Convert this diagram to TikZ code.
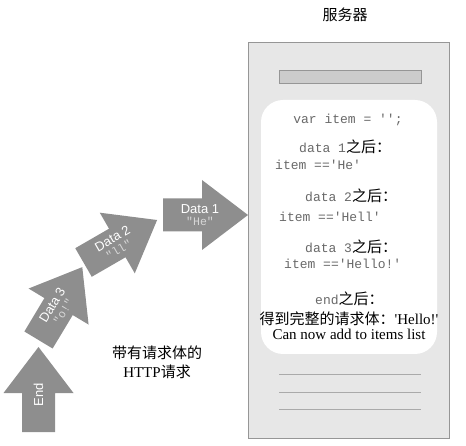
\documentclass[tikz,border=0pt]{standalone}
\usepackage{fontspec}
\setmainfont{Liberation Serif}[Ligatures=TeXOff]
\setsansfont{Liberation Sans}
\setmonofont{Liberation Mono}
\newfontfamily\cjk{Noto Sans CJK SC}

\definecolor{arrowgray}{RGB}{142,142,142}
\definecolor{quotegray}{RGB}{215,215,215}
\definecolor{servergray}{RGB}{231,231,231}
\definecolor{edgegray}{RGB}{150,150,150}
\definecolor{bargray}{RGB}{204,204,204}
\definecolor{rulegray}{RGB}{170,170,170}
\definecolor{codegray}{RGB}{105,105,105}

% Chinese text at body size, in black
\newcommand\zhtext[1]{{\cjk\color{black}\fontsize{15pt}{17pt}\selectfont #1}}

\begin{document}
\begin{tikzpicture}[x=1pt,y=-1pt,
  arrowbody/.style={fill=arrowgray},
  arrowlabel/.style={transform shape, align=center, inner sep=0pt, text=white,
    font=\sffamily\fontsize{13pt}{12pt}\selectfont},
  code/.style={inner sep=0pt, text=codegray, font=\ttfamily\fontsize{13pt}{15pt}\selectfont},
  caption/.style={inner sep=0pt, align=center, font=\fontsize{15pt}{19pt}\selectfont},
  server/.style={fill=servergray, draw=edgegray, line width=0.8pt},
  bar/.style={fill=bargray, draw=edgegray, line width=0.8pt},
  rule/.style={draw=rulegray, line width=0.9pt}]
\useasboundingbox (0,0) rectangle (466,446);

% ---- request chunks, drawn as block arrows along a rising path ----
\newcommand\chunkarrow{%
  \fill[arrowbody] (0,-16.5) -- (39,-16.5) -- (39,-35) -- (85,0)
    -- (39,35) -- (39,16.5) -- (0,16.5) -- cycle;}
\newcommand\quotetext[1]{{\ttfamily\color{quotegray}\fontsize{11.5pt}{12pt}\selectfont #1}}

\begin{scope}[shift={(163,215)}]
  \chunkarrow
  \node[arrowlabel] (d1) at (37,0) {Data 1\\[0.5pt]\quotetext{"He"}};
\end{scope}
\begin{scope}[shift={(83.5,262.5)}, rotate=30]
  \chunkarrow
  \node[arrowlabel] (d2) at (37,0) {Data 2\\[0.5pt]\quotetext{"ll"}};
\end{scope}
\begin{scope}[shift={(38.5,340)}, rotate=59]
  \chunkarrow
  \node[arrowlabel] (d3) at (37,0) {Data 3\\[0.5pt]\quotetext{"o!"}};
\end{scope}
\begin{scope}[shift={(38.5,432)}, rotate=90]
  \chunkarrow
  \node[arrowlabel] (dend) at (37,0) {End};
\end{scope}

\node[caption] (req) at (157,362) {\zhtext{带有请求体的}\\HTTP\zhtext{请求}};

% ---- server ----
\node[caption] (title) at (345,15) {\zhtext{服务器}};
\draw[server] (248,42) rectangle (449,438);
\draw[bar] (279,70) rectangle (421,83);
\fill[white, rounded corners=22pt] (261,100) rectangle (437,354);

\node[code] (init) at (348,120) {var item = '';};
\node[code, anchor=west] (a1) at (299,147) {data 1\zhtext{之后：}};
\node[code, anchor=west] (v1) at (275,165) {item =='He'};
\node[code, anchor=west] (a2) at (305,196) {data 2\zhtext{之后：}};
\node[code, anchor=west] (v2) at (279,217) {item =='Hell'};
\node[code, anchor=west] (a3) at (305,247) {data 3\zhtext{之后：}};
\node[code, anchor=west] (v3) at (284,264) {item =='Hello!'};
\node[code, anchor=west] (ae) at (315,299) {end\zhtext{之后：}};
\node[caption] (done) at (349,326)
  {\zhtext{得到完整的请求体：}'Hello!'\\[-4pt]Can now add to items list};

\foreach \y in {374,392,409}
  \draw[rule] (279,\y) -- (421,\y);
\end{tikzpicture}
\end{document}
